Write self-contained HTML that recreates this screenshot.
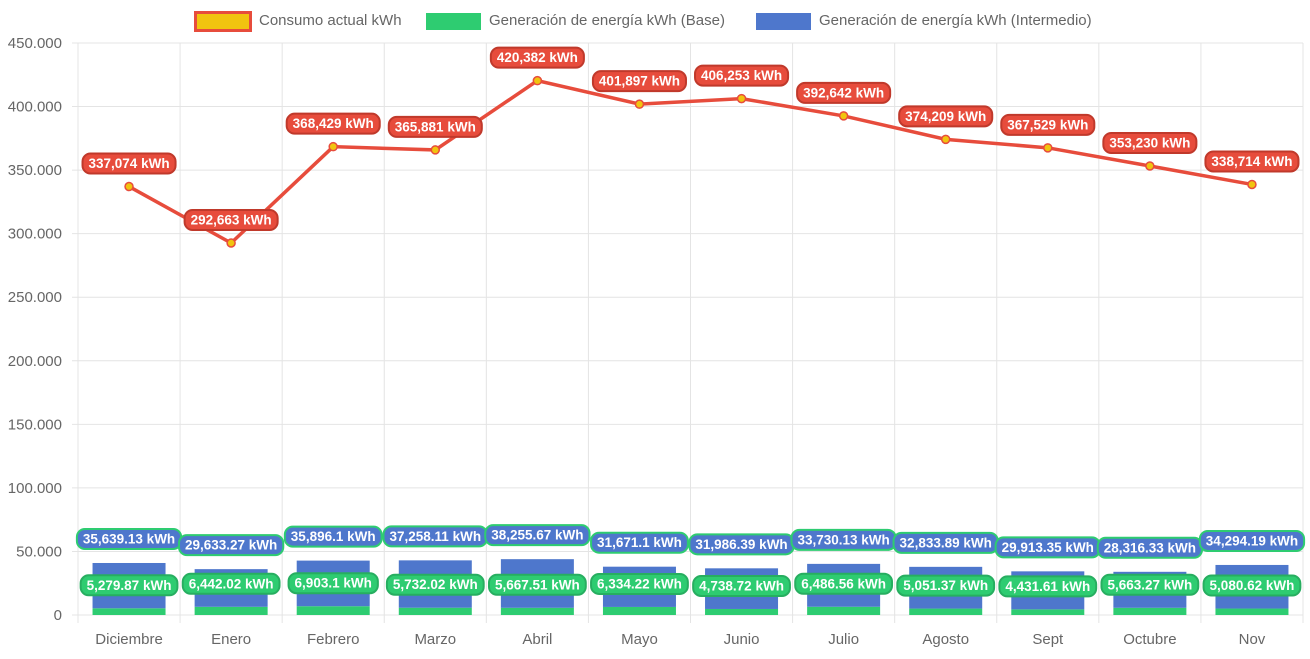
<!DOCTYPE html>
<html><head><meta charset="utf-8"><style>
body{margin:0;background:#fff;font-family:"Liberation Sans",sans-serif}
svg text{font-family:"Liberation Sans",sans-serif}
</style></head><body>
<svg id="c" width="1310" height="654" xmlns="http://www.w3.org/2000/svg"></svg>
<script>
const categories=["Diciembre","Enero","Febrero","Marzo","Abril","Mayo","Junio","Julio","Agosto","Sept","Octubre","Nov"];
const consumo=[337074,292663,368429,365881,420382,401897,406253,392642,374209,367529,353230,338714];
const base=[5279.87,6442.02,6903.1,5732.02,5667.51,6334.22,4738.72,6486.56,5051.37,4431.61,5663.27,5080.62];
const inter=[35639.13,29633.27,35896.1,37258.11,38255.67,31671.1,31986.39,33730.13,32833.89,29913.35,28316.33,34294.19];
const yTicks=[0,50000,100000,150000,200000,250000,300000,350000,400000,450000];
const yTickLabels=["0","50.000","100.000","150.000","200.000","250.000","300.000","350.000","400.000","450.000"];

const svg=document.getElementById('c');const NS="http://www.w3.org/2000/svg";
const L=78,R=1303,T=43,B=615,yMax=450000;
const bw=(R-L)/categories.length;
const x=i=>L+bw*(i+0.5);
const y=v=>B-(v/yMax)*(B-T);
function mk(t,a,p){const e=document.createElementNS(NS,t);for(const k in a)e.setAttribute(k,a[k]);(p||svg).appendChild(e);return e;}
yTicks.forEach((v,i)=>{
 const g=mk('line',{x1:L-6,x2:R,y1:y(v),y2:y(v),stroke:'#e4e4e4'});
 
 
 const t=mk('text',{x:L-16,y:y(v)+5,'text-anchor':'end','font-size':15,fill:'#666'});t.textContent=yTickLabels[i];
 
 
});
for(let i=0;i<=categories.length;i++){
 const g=mk('line',{x1:L+bw*i,x2:L+bw*i,y1:T,y2:B+8,stroke:'#e4e4e4'});
 
 
}
categories.forEach((c,i)=>{
 const t=mk('text',{x:x(i),y:644,'text-anchor':'middle','font-size':15,fill:'#666'});t.textContent=c;
 
 
});
const barW=73;
categories.forEach((c,i)=>{
 const g=mk('rect',{x:x(i)-barW/2,y:y(base[i]),width:barW,height:B-y(base[i]),fill:'#2ecc71'});
 
 
 const b=mk('rect',{x:x(i)-barW/2,y:y(base[i]+inter[i]),width:barW,height:y(base[i])-y(base[i]+inter[i]),fill:'#4e77cc'});
 
 
});
function label(cx,cy,txt,fill,stroke,name){
 const t=mk('text',{x:cx,y:cy+4.5,'text-anchor':'middle','font-size':13.5,'font-weight':'bold',fill:'#fff'});t.textContent=txt;
 const w=t.getComputedTextLength()+12;
 const r=mk('rect',{x:cx-w/2,y:cy-10,width:w,height:20,rx:8,fill:fill,stroke:stroke,'stroke-width':2});
 svg.insertBefore(r,t);
 
 
 
 
}
const pts=consumo.map((v,i)=>x(i)+','+y(v)).join(' ');
const pl=mk('polyline',{points:pts,fill:'none',stroke:'#e74c3c','stroke-width':3.5});


consumo.forEach((v,i)=>{
 const p=mk('circle',{cx:x(i),cy:y(v),r:4,fill:'#f1c40f',stroke:'#e74c3c','stroke-width':1.5});
 
 
});
categories.forEach((c,i)=>{
 label(x(i),y(base[i]+inter[i])-24,inter[i].toLocaleString('en-US',{maximumFractionDigits:2})+' kWh','#4e77cc','#2ecc71','intermedio-value-label');
 label(x(i),y(base[i])-23,base[i].toLocaleString('en-US',{maximumFractionDigits:2})+' kWh','#2ecc71','#27ae60','base-value-label');
 label(x(i),y(consumo[i])-23,consumo[i].toLocaleString('en-US')+' kWh','#e74c3c','#c0392b','consumo-value-label');
});
</script>
<div style="position:absolute;left:0;top:0;width:1310px;height:40px">
 <div style="position:absolute;left:194px;top:11px;width:58px;height:21px;background:#f1c40f;border:3px solid #e74c3c;box-sizing:border-box"></div>
 <div style="position:absolute;left:259px;top:12px;font-size:15px;color:#666">Consumo actual kWh</div>
 <div style="position:absolute;left:426px;top:13px;width:55px;height:17px;background:#2ecc71"></div>
 <div style="position:absolute;left:489px;top:12px;font-size:15px;color:#666">Generación de energía kWh (Base)</div>
 <div style="position:absolute;left:756px;top:13px;width:55px;height:17px;background:#4e77cc"></div>
 <div style="position:absolute;left:819px;top:12px;font-size:15px;color:#666">Generación de energía kWh (Intermedio)</div>
</div>
</body></html>
